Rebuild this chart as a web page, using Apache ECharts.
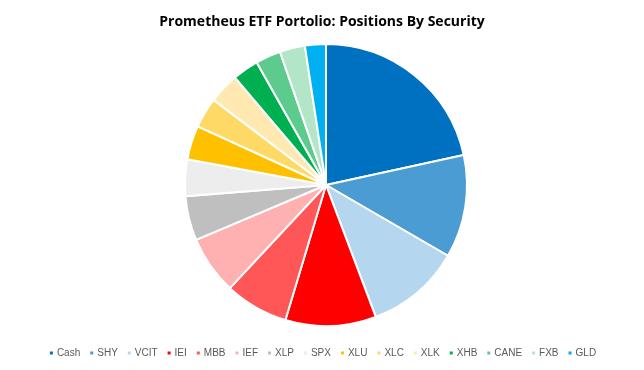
<!DOCTYPE html>
<html><head><meta charset="utf-8">
<script src="https://cdn.jsdelivr.net/npm/echarts@6/dist/echarts.min.js"></script>
<style>html,body{margin:0;padding:0;background:#fff}#c{width:644px;height:370px}</style>
</head><body><div id="c"></div>
<script>
const categories = ['Cash','SHY','VCIT','IEI','MBB','IEF','XLP','SPX','XLU','XLC','XLK','XHB','CANE','FXB','GLD'];
const values = [21.6,11.8,10.9,10.4,7.3,6.7,5.1,4.2,3.9,3.5,3.5,3.0,2.9,2.9,2.4];
const colors = ['#0070C0','#4B9CD3','#B4D6EE','#FF0000','#FF5757','#FFB0B0','#BFBFBF','#EDEDED','#FFC000','#FFD966','#FFE9B0','#00B050','#5ECB8E','#B3E6C9','#00B0F0'];
const chart = echarts.init(document.getElementById('c'));
chart.setOption({
  animation:false,
  title:{text:'Prometheus ETF Portolio: Positions By Security',left:'center',top:10,
    textStyle:{fontFamily:'Open Sans',fontWeight:'bold',fontSize:14,color:'#000'}},
  legend:{bottom:7,left:'center',icon:'rect',itemWidth:5,itemHeight:5,itemGap:8,
    textStyle:{fontFamily:'Liberation Sans',fontSize:10,color:'#595959',padding:[0,0,0,-2]},data:categories},
  color:colors,
  series:[{type:'pie',center:[326,185],radius:141,startAngle:90,clockwise:true,
    label:{show:false},labelLine:{show:false},
    itemStyle:{borderColor:'#fff',borderWidth:2},
    data:categories.map((n,i)=>({name:n,value:values[i]}))}]
});
</script></body></html>
